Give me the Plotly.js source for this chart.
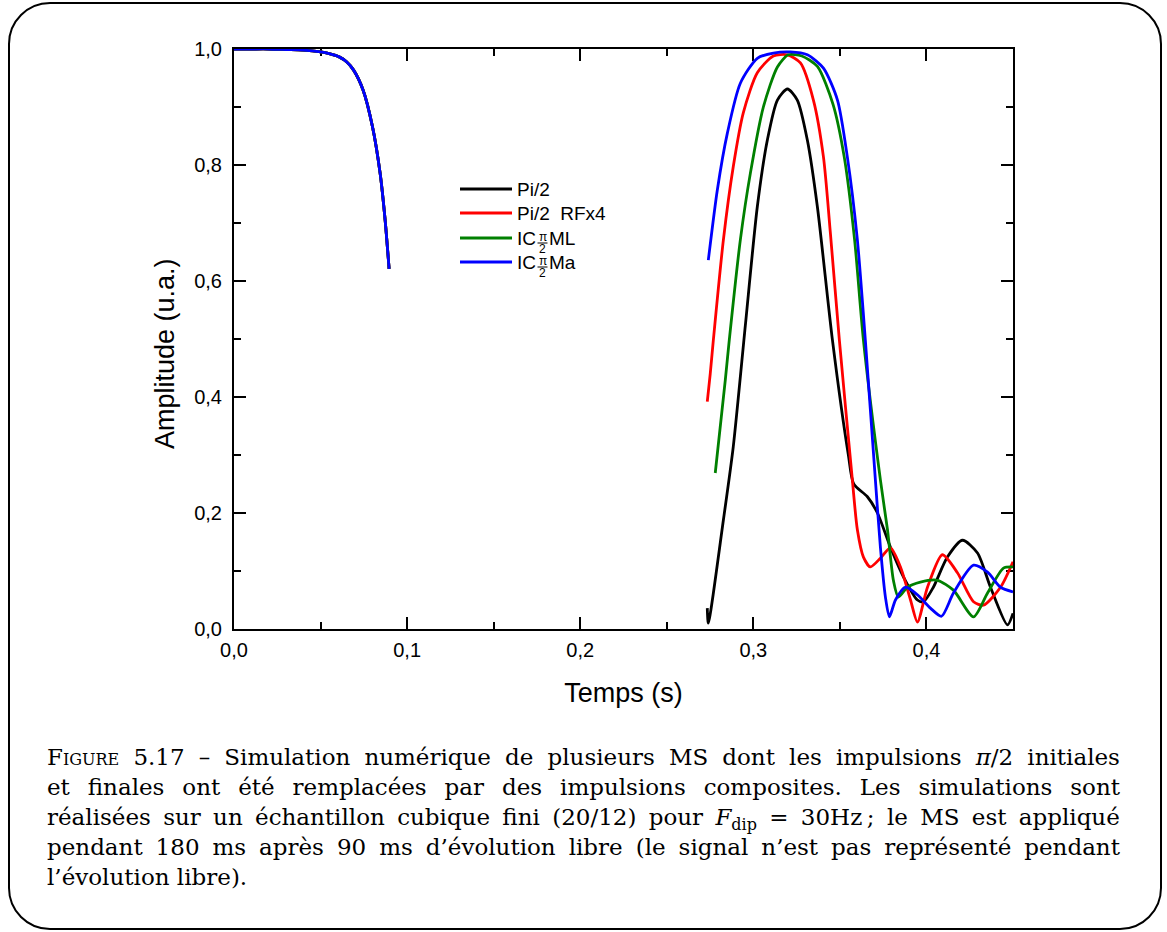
<!DOCTYPE html>
<html>
<head>
<meta charset="utf-8">
<script src="https://cdn.plot.ly/plotly-3.0.1.min.js"></script>
<style>
  html, body { margin: 0; padding: 0; background: #fff; }
  #chart { position: absolute; left: 0; top: 0; width: 1167px; height: 932px; }
  #frame { position: absolute; left: 8px; top: 2px; width: 1150px; height: 924px;
           border: 2px solid #000; border-radius: 42px; pointer-events: none; }
  .cap { position: absolute; left: 47px; width: 1073px; height: 30px; line-height: 30px;
         font-family: "DejaVu Serif", serif; font-size: 23px; color: #000; white-space: nowrap; }
  .just { display: flex; justify-content: space-between; }
  .sc { font-variant: small-caps; }
  .sub { font-size: 16px; position: relative; top: 5px; }
</style>
</head>
<body>
<div id="chart"></div>
<div id="frame"></div>
<div id="caption"></div>
<script>
// ---------------- data ----------------
// Initial signal (all series overlap, blue drawn on top)
const initT = [0, 0.010, 0.020, 0.030, 0.040, 0.050, 0.055, 0.061, 0.065, 0.069, 0.0746, 0.080, 0.0844, 0.0873, 0.0896];
const initA = [1.000, 1.000, 1.000, 0.999, 0.998, 0.995, 0.992, 0.986, 0.978, 0.964, 0.929, 0.866, 0.786, 0.705, 0.621];

// Pi/2 (black)
const pi2T = [0.2734, 0.2740, 0.2827, 0.2884, 0.2954, 0.3023, 0.3081, 0.3139, 0.3197, 0.3254, 0.3312, 0.3370, 0.3457, 0.3549, 0.3580, 0.3659, 0.3717, 0.3792, 0.3867, 0.3948, 0.3983, 0.4040, 0.4121, 0.4208, 0.4295, 0.4370, 0.4468, 0.4500];
const pi2A = [0.036, 0.010, 0.188, 0.314, 0.524, 0.728, 0.843, 0.912, 0.931, 0.912, 0.843, 0.728, 0.498, 0.300, 0.250, 0.228, 0.200, 0.141, 0.090, 0.050, 0.047, 0.072, 0.124, 0.153, 0.131, 0.072, 0.007, 0.027];

// Pi/2 RFx4 (red)
const rfT = [0.2734, 0.2751, 0.2769, 0.2827, 0.2884, 0.2942, 0.3023, 0.3116, 0.3197, 0.3272, 0.3347, 0.3405, 0.3445, 0.3497, 0.3572, 0.3601, 0.3636, 0.3676, 0.3734, 0.3792, 0.3850, 0.3908, 0.3948, 0.4006, 0.4092, 0.4179, 0.4272, 0.4329, 0.4428, 0.4500];
const rfA = [0.392, 0.440, 0.498, 0.671, 0.797, 0.890, 0.959, 0.988, 0.990, 0.976, 0.912, 0.814, 0.683, 0.498, 0.257, 0.171, 0.124, 0.107, 0.122, 0.140, 0.107, 0.050, 0.012, 0.072, 0.128, 0.097, 0.047, 0.041, 0.072, 0.116];

// IC pi/2 ML (green)
const mlT = [0.2780, 0.2838, 0.2861, 0.2925, 0.2983, 0.3058, 0.3139, 0.3202, 0.3280, 0.3370, 0.3460, 0.3525, 0.3585, 0.3636, 0.3734, 0.3775, 0.3809, 0.3838, 0.3890, 0.3965, 0.4064, 0.4156, 0.4272, 0.4353, 0.4445, 0.4500];
const mlA = [0.269, 0.429, 0.498, 0.671, 0.786, 0.900, 0.969, 0.990, 0.988, 0.970, 0.905, 0.814, 0.671, 0.498, 0.257, 0.171, 0.084, 0.055, 0.072, 0.081, 0.084, 0.067, 0.021, 0.062, 0.105, 0.107];

// IC pi/2 Ma (blue)
const maT = [0.2740, 0.2792, 0.2850, 0.2925, 0.3023, 0.3116, 0.3214, 0.3312, 0.3405, 0.3486, 0.3543, 0.3601, 0.3647, 0.3705, 0.3734, 0.3763, 0.3786, 0.3821, 0.3879, 0.3948, 0.4023, 0.4087, 0.4156, 0.4272, 0.4353, 0.4428, 0.4500];
const maA = [0.636, 0.757, 0.855, 0.941, 0.984, 0.993, 0.995, 0.990, 0.967, 0.912, 0.814, 0.671, 0.498, 0.257, 0.141, 0.055, 0.021, 0.050, 0.072, 0.059, 0.036, 0.022, 0.062, 0.110, 0.098, 0.072, 0.064];

const seriesNames = ['Pi/2', 'Pi/2  RFx4', 'IC\u03C0/2ML', 'IC\u03C0/2Ma'];
const seriesColors = ['#000000', '#ff0000', '#008000', '#0000ff'];
const seriesT = [pi2T, rfT, mlT, maT];
const seriesA = [pi2A, rfA, mlA, maA];

const xTickVals = [0, 0.1, 0.2, 0.3, 0.4];
const yTickVals = [0, 0.2, 0.4, 0.6, 0.8, 1.0];

// ---------------- layout helpers ----------------
const L = 234, R = 1013, T = 49, B = 629;
const px = v => (v - L) / (R - L);
const py = v => (B - v) / (B - T);

const traces = seriesNames.map((n, i) => ({
  type: 'scatter', mode: 'lines', name: n, showlegend: false,
  x: initT.concat([null], seriesT[i]),
  y: initA.concat([null], seriesA[i]),
  line: { color: seriesColors[i], width: 2.8, shape: 'spline', smoothing: 0.7 },
  connectgaps: false, hoverinfo: 'skip'
}));

// custom legend reproducing the stacked fraction
const FONT = 'Liberation Sans, Arial, sans-serif';
const legRows = [189, 213, 238, 262];
const shapes = [];
const annotations = [];
legRows.forEach((ry, i) => {
  shapes.push({ type: 'line', xref: 'paper', yref: 'paper', x0: px(460), x1: px(512), y0: py(ry), y1: py(ry),
    line: { color: seriesColors[i], width: 2.8 } });
});
function txt(t, x, y, size, anchor, angle) {
  annotations.push({ xref: 'paper', yref: 'paper', x: px(x), y: py(y), text: t, showarrow: false,
    xanchor: anchor || 'left', yanchor: 'middle', textangle: angle || 0,
    font: { family: FONT, size: size, color: '#000' } });
}
txt('Pi/2', 515, legRows[0], 19);
txt('Pi/2&nbsp;&nbsp;RFx4', 515, legRows[1], 19);
[[2, 'ML'], [3, 'Ma']].forEach(([i, suf]) => {
  const ry = legRows[i];
  txt('IC', 515, ry, 19);
  txt('\u03C0', 542.5, ry - 1.5, 12, 'center');
  txt('2', 542.5, ry + 10.5, 12, 'center');
  shapes.push({ type: 'line', xref: 'paper', yref: 'paper', x0: px(537.5), x1: px(547.5), y0: py(ry + 5), y1: py(ry + 5),
    line: { color: '#000', width: 1 } });
  txt(suf, 547, ry, 19);
});
// y axis title (shifted along the axis like the reference)
txt('Amplitude (u.a.)', 165, 354, 27, 'center', -90);

const axisCommon = {
  showline: true, linecolor: '#000', linewidth: 2, mirror: 'ticks',
  ticks: 'inside', ticklen: 12, tickwidth: 2, tickcolor: '#000',
  showgrid: false, zeroline: false, layer: 'below traces',
  tickfont: { family: FONT, size: 20, color: '#000' },
  tickformat: '.1f', automargin: true
};

const layout = {
  width: 1167, height: 932,
  margin: { l: L, r: 1167 - R, t: T, b: 932 - B, pad: 0 },
  paper_bgcolor: 'rgba(0,0,0,0)', plot_bgcolor: 'rgba(0,0,0,0)',
  separators: ',.',
  showlegend: false,
  xaxis: Object.assign({}, axisCommon, {
    range: [0, 0.45], tickvals: xTickVals, ticklabelstandoff: 2,
    minor: { dtick: 0.05, tick0: 0, ticks: 'inside', ticklen: 7, tickwidth: 2, tickcolor: '#000', showgrid: false },
    title: { text: 'Temps (s)', font: { family: FONT, size: 27, color: '#000' }, standoff: 23 }
  }),
  yaxis: Object.assign({}, axisCommon, {
    range: [0, 1], tickvals: yTickVals, ticklabelstandoff: 6,
    minor: { dtick: 0.1, tick0: 0, ticks: 'inside', ticklen: 7, tickwidth: 2, tickcolor: '#000', showgrid: false }
  }),
  shapes: shapes,
  annotations: annotations
};

Plotly.newPlot('chart', traces, layout, { displayModeBar: false, staticPlot: true });

// ---------------- caption ----------------
const captionLines = [
  ['<span class="sc">Figure</span>', '5.17', '–', 'Simulation', 'numérique', 'de', 'plusieurs', 'MS', 'dont', 'les', 'impulsions', '<i>π</i>/2', 'initiales'],
  ['et', 'finales', 'ont', 'été', 'remplacées', 'par', 'des', 'impulsions', 'composites.', 'Les', 'simulations', 'sont'],
  ['réalisées', 'sur', 'un', 'échantillon', 'cubique', 'fini', '(20/12)', 'pour', '<i>F</i><span class="sub">dip</span>', '=', '30Hz&thinsp;;', 'le', 'MS', 'est', 'appliqué'],
  ['pendant', '180', 'ms', 'après', '90', 'ms', 'd’évolution', 'libre', '(le', 'signal', 'n’est', 'pas', 'représenté', 'pendant'],
  ['l’évolution libre).']
];
const cap = document.getElementById('caption');
captionLines.forEach((words, i) => {
  const d = document.createElement('div');
  d.className = 'cap' + (words.length > 1 ? ' just' : '');
  d.style.top = (742 + 30 * i) + 'px';
  d.innerHTML = words.map(w => '<span>' + w + '</span>').join(words.length > 1 ? '' : ' ');
  cap.appendChild(d);
});
</script>
</body>
</html>
